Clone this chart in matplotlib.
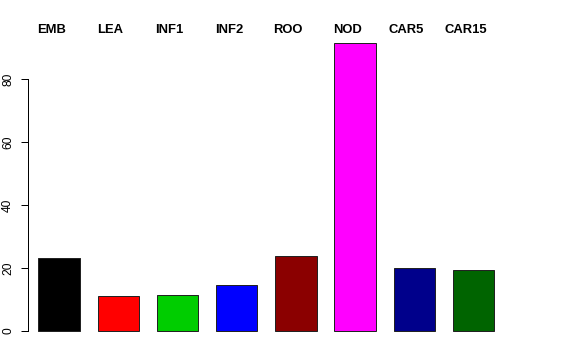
import numpy as np
import matplotlib
matplotlib.use("Agg")
import matplotlib.pyplot as plt

plt.rcParams['font.family'] = ['Liberation Sans', 'DejaVu Sans']

# données
categories = ["EMB", "LEA", "INF1", "INF2", "ROO", "NOD", "CAR5", "CAR15"]
values = [23.2, 11.1, 11.4, 14.6, 23.8, 91.4, 20.0, 19.4]
colors = ["#000000", "#FF0000", "#00CD00", "#0000FF", "#8B0000", "#FF00FF", "#00008B", "#006400"]
yticks = [0, 20, 40, 60, 80]

fig = plt.figure(figsize=(8, 5), dpi=72)
ax = fig.add_axes([28 / 576, 1 - 342.5 / 360, (504.5 - 28) / 576, (342.5 - 31.7) / 360])

x = np.arange(len(categories))
ax.bar(x, values, width=0.7, color=colors, edgecolor="#222222", linewidth=1)

ymax = max(values)
ax.set_ylim(-0.04 * ymax, 1.04 * ymax)
ax.set_xlim(-0.524, len(categories) - 1 + 0.524)

for s in ["top", "right", "bottom"]:
    ax.spines[s].set_visible(False)
ax.spines["left"].set_bounds(0, 80)
ax.spines["left"].set_linewidth(1)
ax.set_xticks([])
ax.set_yticks(yticks)
ax.set_yticklabels([str(t) for t in yticks], rotation=90, va="center", fontsize=12)
ax.tick_params(axis="y", length=7, width=1, pad=7)

# étiquettes en haut, un peu décalées à gauche du centre des barres
trans = matplotlib.transforms.blended_transform_factory(ax.transData, fig.transFigure)
for i, c in enumerate(categories):
    ax.text(x[i] - 0.13, 1 - 30 / 360, c, transform=trans, ha="center", va="center",
            fontsize=13, fontweight="bold")

fig.savefig("out.png", dpi=72)
